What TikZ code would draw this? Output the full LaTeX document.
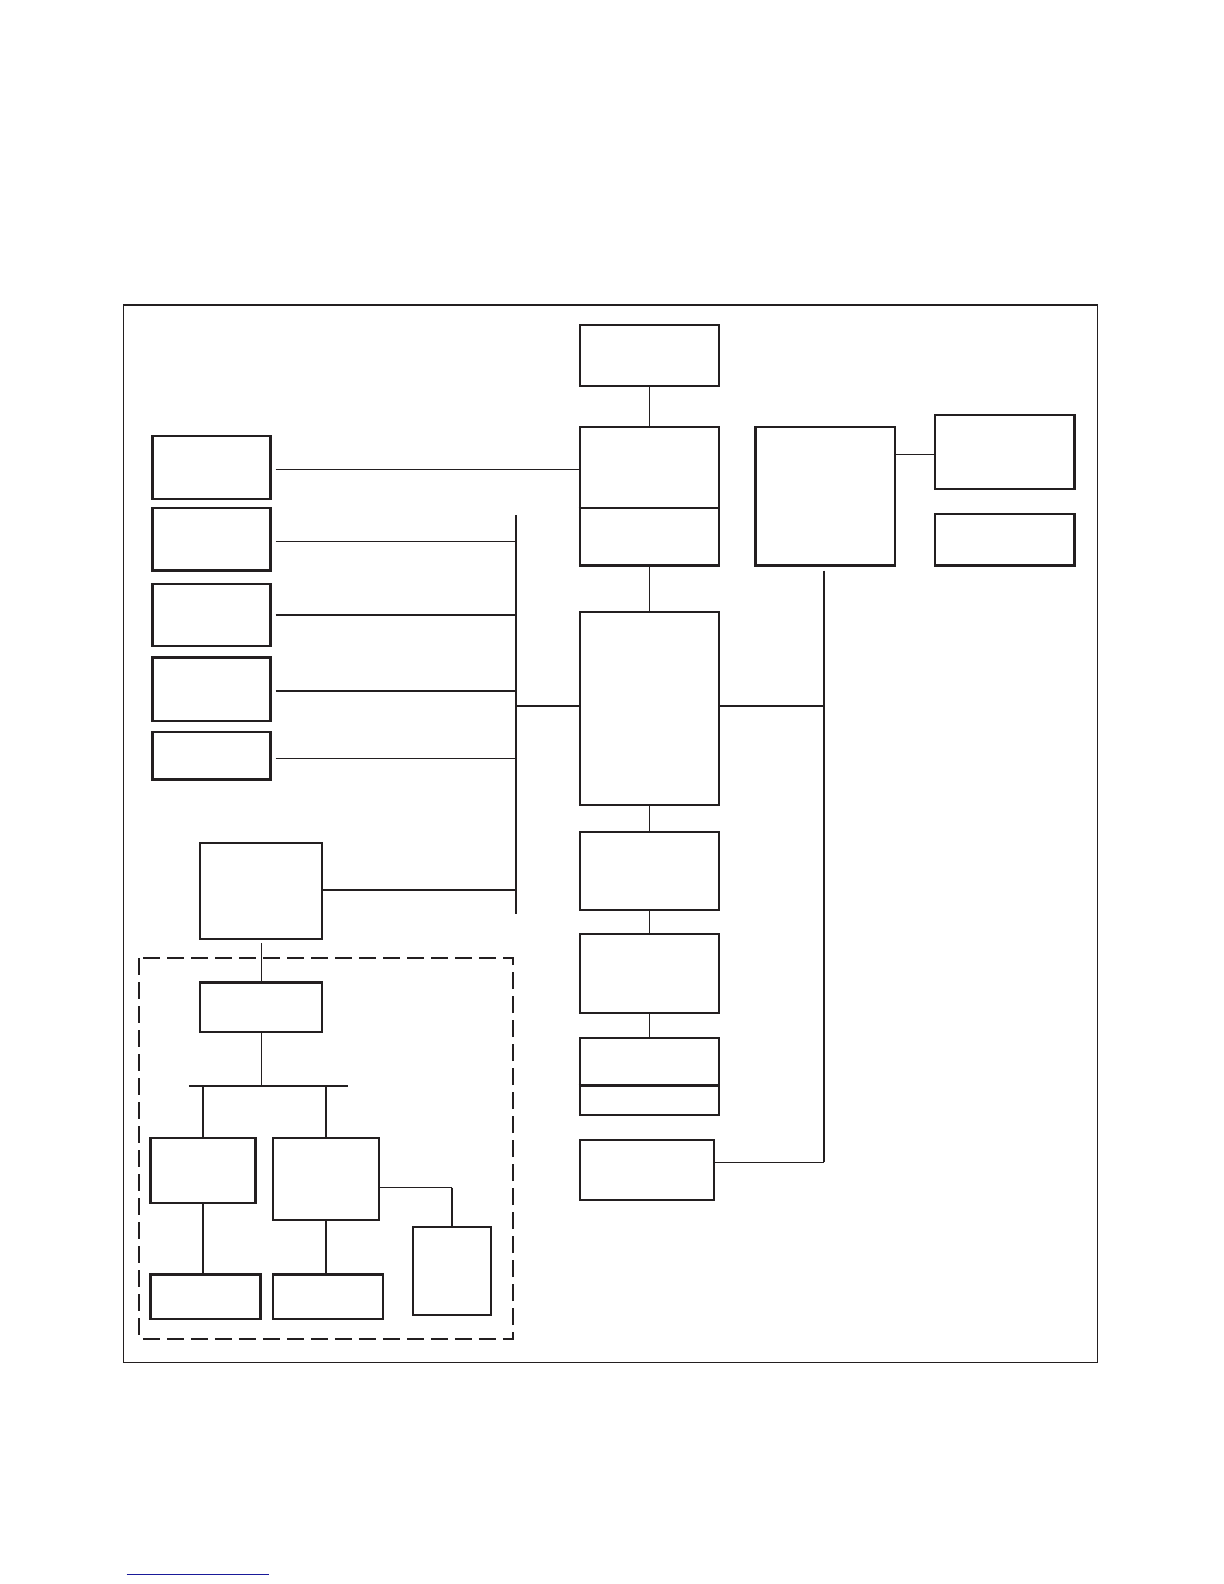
\documentclass[tikz,border=0pt]{standalone}
\usetikzlibrary{fit}
\definecolor{ink}{HTML}{231F20}
\definecolor{linkblue}{HTML}{1A1A9A}
\begin{document}
\begin{tikzpicture}[x=0.5bp,y=-0.5bp,
  box/.style={draw=ink, line width=1.15bp, inner sep=0pt, rectangle},
  thinline/.style={draw=ink, line width=0.55bp},
  thickline/.style={draw=ink, line width=0.9bp},
  frame/.style={draw=ink, line width=0.65bp},
  dashbox/.style={draw=ink, line width=1.05bp, dash pattern=on 8.5bp off 3.5bp}]
\useasboundingbox (0,0) rectangle (1224,1584);
% outer frame
\draw[frame] (123.2,305) rectangle (1097.8,1362.3);
% centre column
\node[box, fit={(579.7,325.2) (719,385.8)}] (T) {};
\node[box, fit={(579.7,427.2) (719,565.5)}] (B) {};
\draw[box] (B.west |- 0,508) -- (B.east |- 0,508);
\node[box, fit={(579.7,612) (719,805)}] (C) {};
\node[box, fit={(579.7,832.2) (719,910)}] (D) {};
\node[box, fit={(579.7,934.2) (719,1013)}] (E) {};
\node[box, fit={(579.7,1038.2) (719,1114.9)}] (F) {};
\draw[box] (F.west |- 0,1085.6) -- (F.east |- 0,1085.6);
\node[box, fit={(579.7,1140.2) (714,1199.8)}] (G) {};
% right column
\node[box, fit={(755.4,427.2) (894.8,565.5)}] (R) {};
\node[box, fit={(935.2,415) (1074.5,488.8)}] (RA) {};
\node[box, fit={(935.2,514) (1074.5,565.5)}] (RB) {};
% left column
\node[box, fit={(152.5,436.3) (270.6,498.9)}] (L1) {};
\node[box, fit={(152.5,508) (270.6,570.6)}] (L2) {};
\node[box, fit={(152.5,583.7) (270.6,646.3)}] (L3) {};
\node[box, fit={(152.5,657.4) (270.6,721)}] (L4) {};
\node[box, fit={(152.5,732.2) (270.6,779.6)}] (L5) {};
\node[box, fit={(200,843.3) (322.2,939.2)}] (H) {};
% dashed group
\draw[dashbox] (139.4,958.4) rectangle (513,1339);
\node[box, fit={(200,982.6) (322.2,1032.1)}] (I) {};
\node[box, fit={(150.5,1138.2) (255.5,1202.8)}] (J1) {};
\node[box, fit={(272.7,1138.2) (378.7,1220)}] (J2) {};
\node[box, fit={(413,1227) (490.8,1314.9)}] (K) {};
\node[box, fit={(150.5,1274.5) (260.5,1319)}] (J3) {};
\node[box, fit={(272.7,1274.5) (382.8,1319)}] (J4) {};
% coordinates
\coordinate (busTop) at (516,515);
\coordinate (busBot) at (516,914);
\coordinate (vTop) at (824,570.6);
\coordinate (vBot) at (824,1162.4);
\coordinate (hbL) at (188.9,1085.6);
\coordinate (hbR) at (348.4,1085.6);
% connectors centre column
\draw[thinline] (T.south) -- (B.north);
\draw[thinline] (B.south) -- (C.north);
\draw[thinline] (C.south) -- (D.north);
\draw[thinline] (D.south) -- (E.north);
\draw[thinline] (E.south) -- (F.north);
% left bus
\draw[thinline] (busTop) -- (busBot);
\draw[thinline] ([xshift=2pt]L1.east |- 0,469.6) -- (B.west |- 0,469.6);
\draw[thinline] ([xshift=2pt]L2.east |- 0,541.3) -- (busTop |- 0,541.3);
\draw[thickline] ([xshift=2pt]L3.east) -- (L3.east -| busTop);
\draw[thickline] ([xshift=2pt]L4.east |- 0,690.8) -- (busTop |- 0,690.8);
\draw[thickline] ([xshift=2pt]L5.east |- 0,758.4) -- (busTop |- 0,758.4);
\draw[thickline] (H.east |- 0,889.7) -- (busTop |- 0,889.7);
\draw[thinline] (busTop |- 0,706) -- (C.west |- 0,706);
% right side
\draw[thinline] (C.east |- 0,706) -- (vTop |- 0,706);
\draw[thickline] (vTop) -- (vBot);
\draw[thinline] (G.east |- vBot) -- (vBot);
\draw[thinline] (R.east |- 0,454.5) -- (RA.west |- 0,454.5);
% dashed group connectors
\draw[thinline] ([yshift=-1.5pt]H.south) -- (I.north);
\draw[thinline] (I.south) -- (I.south |- hbL);
\draw[thickline] (hbL) -- (hbR);
\draw[thinline] (J1.north |- hbL) -- (J1.north);
\draw[thickline] (J2.north |- hbL) -- (J2.north);
\draw[thinline] (J1.south) -- (J1.south |- J3.north);
\draw[thickline] (J2.south) -- (J2.south |- J4.north);
\draw[thinline] (J2.east |- 0,1187.6) -- (K.north |- 0,1187.6);
\draw[thickline] (K.north |- 0,1187.6) -- (K.north);
% blue rule at bottom
\coordinate (blA) at (126.7,1574.5);
\coordinate (blB) at (269,1574.5);
\draw[draw=linkblue, line width=0.6bp] (blA) -- (blB);
\end{tikzpicture}
\end{document}
